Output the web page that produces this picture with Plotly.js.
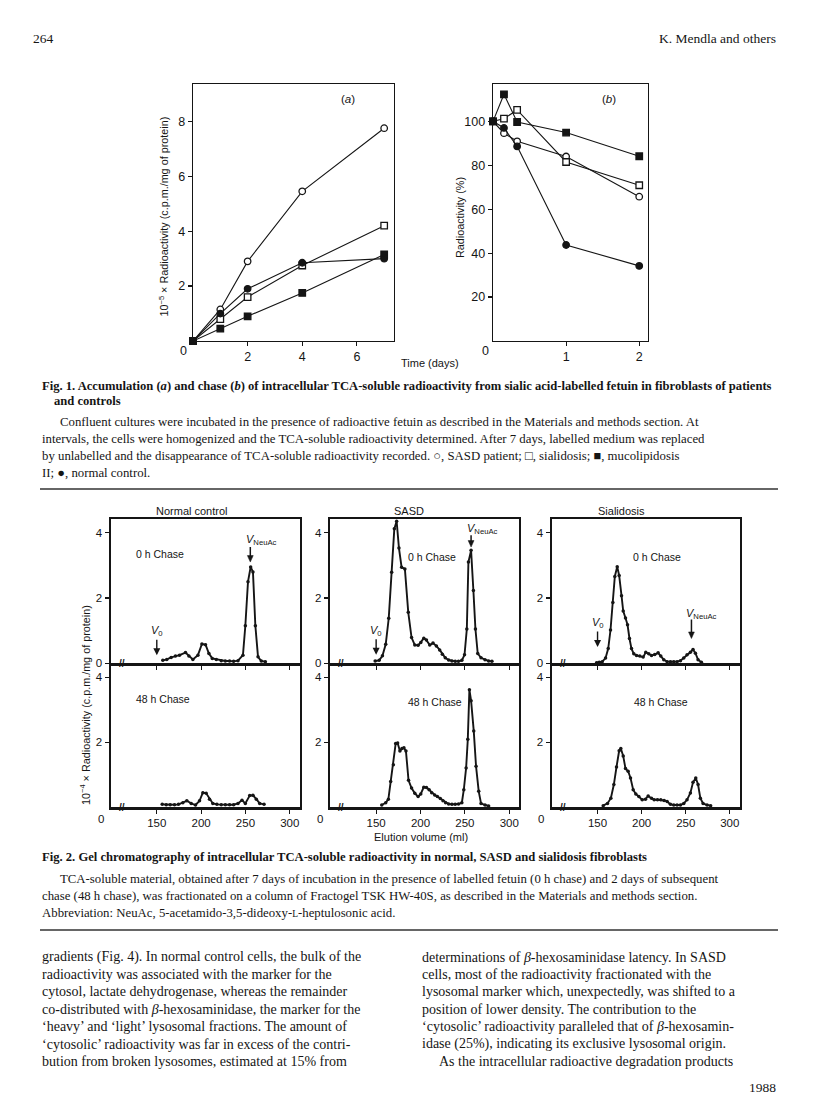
<!DOCTYPE html>
<html>
<head>
<meta charset="utf-8">
<script src="https://cdn.plot.ly/plotly-3.0.1.min.js"></script>
<style>
  body { margin: 0; background: #fff; }
  #page { width: 816px; height: 1100px; }
</style>
</head>
<body>
<div id="page"></div>
<script>
// ---- Fig. 1 (a): accumulation, 10^-5 x c.p.m./mg protein vs time (days)
const accDays = [0, 1, 2, 4, 7];
const accSasd = [0, 1.15, 2.9, 5.45, 7.75];      // open circle
const accSialidosis = [0, 0.8, 1.6, 2.75, 4.2];  // open square
const accMucolip = [0, 0.45, 0.9, 1.75, 3.15];   // filled square
const accNormal = [0, 1.0, 1.9, 2.85, 3.0];      // filled circle

// ---- Fig. 1 (b): chase, radioactivity (%) vs time (days)
const chaseDays = [0, 0.15, 0.33, 1, 2];
const chaseSasd = [100, 94.6, 90.9, 84, 65.7];
const chaseSialidosis = [100, 101.2, 105.2, 81.5, 70.9];
const chaseMucolip = [100, 112.3, 99.7, 94.9, 84.1];
const chaseNormal = [100, 97, 88.6, 43.7, 34.2];

// ---- Fig. 2: elution volume (ml) and 10^-4 x c.p.m./mg protein
const normal0hMl = [156.8, 161.3, 166.2, 171.1, 175.6, 182.4, 186.2, 190.7, 196.4, 200.9, 205.0, 208.8, 212.6, 217.1, 222.7, 227.3, 232.1, 236.7, 241.6, 247.2, 249.9, 252.9, 255.9, 258.5, 261.2, 264.2, 267.9, 272.5];
const normal0hVal = [0.09, 0.12, 0.18, 0.22, 0.25, 0.33, 0.22, 0.12, 0.25, 0.59, 0.57, 0.3, 0.15, 0.12, 0.08, 0.07, 0.07, 0.06, 0.08, 0.25, 1.15, 2.5, 2.95, 2.8, 1.15, 0.2, 0.07, 0.05];
const normal48hMl = [156.1, 160.6, 165.1, 170.0, 174.5, 179.4, 183.9, 188.8, 193.7, 198.2, 202.0, 205.7, 209.5, 213.2, 217.8, 222.7, 227.3, 232.1, 236.7, 241.6, 246.1, 249.9, 254.8, 258.5, 262.3, 266.1, 271.0];
const normal48hVal = [0.09, 0.08, 0.08, 0.08, 0.09, 0.14, 0.2, 0.12, 0.07, 0.2, 0.45, 0.43, 0.25, 0.12, 0.09, 0.08, 0.08, 0.08, 0.08, 0.12, 0.22, 0.12, 0.36, 0.37, 0.25, 0.12, 0.09];

const sasd0hMl = [148.9, 153.4, 157.1, 160.8, 164.2, 167.5, 170.5, 173.1, 175.7, 178.7, 182.4, 186.2, 189.9, 193.6, 197.3, 200.3, 203.7, 206.7, 210.4, 214.1, 217.9, 221.6, 224.6, 227.9, 231.7, 235.4, 239.1, 242.8, 246.6, 249.6, 252.2, 254.0, 257.0, 259.6, 261.9, 264.5, 268.2, 272.7, 276.8, 280.5];
const sasd0hVal = [0.07, 0.09, 0.23, 0.58, 1.38, 2.79, 4.12, 4.35, 3.53, 2.94, 2.89, 1.56, 0.79, 0.56, 0.55, 0.64, 0.77, 0.71, 0.56, 0.62, 0.53, 0.41, 0.28, 0.17, 0.1, 0.07, 0.06, 0.06, 0.09, 0.26, 1.05, 3.1, 3.46, 2.23, 1.05, 0.3, 0.17, 0.11, 0.07, 0.06];
const sasd48hMl = [156.3, 160.8, 163.8, 166.4, 169.4, 172.0, 174.2, 176.8, 179.1, 181.3, 183.6, 186.5, 189.9, 193.6, 197.3, 200.3, 203.7, 206.7, 209.7, 212.6, 216.0, 219.0, 222.3, 225.3, 228.3, 231.7, 235.4, 239.1, 242.8, 246.6, 248.8, 251.4, 253.3, 255.1, 257.0, 260.0, 262.6, 265.6, 268.2, 272.7, 276.8];
const sasd48hVal = [0.07, 0.14, 0.25, 0.79, 1.31, 1.96, 1.98, 1.73, 1.81, 1.83, 1.73, 0.83, 0.59, 0.43, 0.33, 0.41, 0.62, 0.61, 0.54, 0.45, 0.38, 0.33, 0.27, 0.2, 0.14, 0.1, 0.09, 0.09, 0.1, 0.14, 0.54, 1.21, 2.09, 3.62, 3.28, 2.35, 1.26, 0.49, 0.12, 0.07, 0.04];

const sial0hMl = [148.9, 151.9, 155.3, 159.1, 162.1, 164.7, 167.4, 169.6, 172.3, 174.5, 177.2, 179.1, 181.7, 184.0, 186.2, 188.5, 191.1, 194.2, 197.9, 201.7, 204.7, 208.1, 211.2, 214.9, 218.7, 221.7, 225.1, 228.9, 232.7, 236.4, 240.2, 244.0, 247.8, 251.5, 255.3, 258.3, 261.0, 264.0, 267.8];
const sial0hVal = [0.02, 0.03, 0.05, 0.16, 0.45, 1.02, 1.86, 2.66, 2.96, 2.69, 2.07, 1.6, 1.39, 1.18, 0.76, 0.45, 0.29, 0.24, 0.22, 0.19, 0.34, 0.29, 0.24, 0.27, 0.32, 0.22, 0.11, 0.05, 0.05, 0.05, 0.05, 0.08, 0.16, 0.26, 0.34, 0.42, 0.31, 0.11, 0.03];
const sial48hMl = [156.4, 161.3, 165.1, 168.5, 171.5, 174.5, 176.4, 179.1, 181.7, 184.7, 187.4, 190.4, 193.4, 196.8, 200.6, 204.4, 207.4, 211.2, 214.2, 218.0, 221.7, 225.5, 228.9, 232.7, 236.4, 240.2, 244.0, 247.8, 251.5, 255.3, 258.3, 261.4, 264.0, 266.6, 269.7, 274.2, 278.3];
const sial48hVal = [0.05, 0.12, 0.28, 0.7, 1.24, 1.74, 1.81, 1.58, 1.19, 1.11, 0.9, 0.54, 0.41, 0.33, 0.23, 0.25, 0.35, 0.28, 0.23, 0.23, 0.23, 0.21, 0.18, 0.09, 0.07, 0.07, 0.07, 0.12, 0.23, 0.44, 0.77, 0.9, 0.7, 0.28, 0.12, 0.07, 0.05];

const panelTitles = ['Normal control', 'SASD', 'Sialidosis'];
const volumeTicks = [150, 200, 250, 300];

// page pixel -> paper fraction
const W = 816, H = 1100;
const fx = p => p / W;
const fy = p => 1 - p / H;
const INK = '#151515';
const SANS = 'Liberation Sans, Arial, sans-serif';
const SERIF = 'Liberation Serif, Times New Roman, serif';

function fig1Trace(x, y, symbol, fill, n) {
    return {
        x: x, y: y, type: 'scatter', mode: 'lines+markers',
        xaxis: 'x' + n, yaxis: 'y' + n, cliponaxis: false, hoverinfo: 'skip',
        line: { color: INK, width: 1.1 },
        marker: { symbol: symbol, size: 6.5, color: fill, line: { color: INK, width: 1.3 } }
    };
}

function fig2Trace(x, y, n) {
    return {
        x: x, y: y, type: 'scatter', mode: 'lines+markers',
        xaxis: 'x' + n, yaxis: 'y' + n, cliponaxis: false, hoverinfo: 'skip',
        line: { color: INK, width: 1.9 },
        marker: { size: 3.5, color: INK }
    };
}

const data = [
    fig1Trace(accDays, accSasd, 'circle', '#fff', ''),
    fig1Trace(accDays, accSialidosis, 'square', '#fff', ''),
    fig1Trace(accDays, accMucolip, 'square', INK, ''),
    fig1Trace(accDays, accNormal, 'circle', INK, ''),
    fig1Trace(chaseDays, chaseSasd, 'circle', '#fff', '2'),
    fig1Trace(chaseDays, chaseSialidosis, 'square', '#fff', '2'),
    fig1Trace(chaseDays, chaseMucolip, 'square', INK, '2'),
    fig1Trace(chaseDays, chaseNormal, 'circle', INK, '2'),
    fig2Trace(normal0hMl, normal0hVal, 3),
    fig2Trace(sasd0hMl, sasd0hVal, 4),
    fig2Trace(sial0hMl, sial0hVal, 5),
    fig2Trace(normal48hMl, normal48hVal, 6),
    fig2Trace(sasd48hMl, sasd48hVal, 7),
    fig2Trace(sial48hMl, sial48hVal, 8)
];

function axis(extra) {
    return Object.assign({
        showgrid: false, zeroline: false, showline: true, linecolor: INK,
        ticks: 'outside', tickcolor: INK, ticklen: 4, tickwidth: 1.2,
        tickfont: { family: SANS, size: 12, color: INK }, fixedrange: true
    }, extra);
}

const fig1Font = { family: SANS, size: 12.5, color: INK };
const fig2Font = { family: SANS, size: 11.5, color: INK };

const layout = {
    width: W, height: H,
    margin: { l: 0, r: 0, t: 0, b: 0 },
    paper_bgcolor: '#fff', plot_bgcolor: 'rgba(0,0,0,0)',
    showlegend: false,
    font: { family: SANS, color: INK },
    // Fig 1a
    xaxis: axis({ domain: [fx(193), fx(394)], range: [0, 7.36], anchor: 'y', tickvals: [2, 4, 6], mirror: true, linewidth: 1.4, tickfont: fig1Font }),
    yaxis: axis({ domain: [fy(341), fy(84)], range: [0, 9.36], anchor: 'x', tickvals: [2, 4, 6, 8], mirror: true, linewidth: 1.4, tickfont: fig1Font }),
    // Fig 1b
    xaxis2: axis({ domain: [fx(493), fx(648)], range: [0, 2.12], anchor: 'y2', tickvals: [1, 2], mirror: true, linewidth: 1.4, tickfont: fig1Font }),
    yaxis2: axis({ domain: [fy(341), fy(84)], range: [0, 117], anchor: 'x2', tickvals: [20, 40, 60, 80, 100], mirror: true, linewidth: 1.4, tickfont: fig1Font }),
    annotations: [],
    shapes: []
};

// Fig 2 panels: columns share x positions, rows 0 h (top) and 48 h (bottom)
const colEdges = [[110.7, 299.5], [330, 519], [551.7, 739.5]];
for (let c = 0; c < 3; c++) {
    const top = 3 + c, bot = 6 + c;
    const dom = [fx(colEdges[c][0]), fx(colEdges[c][1])];
    layout['xaxis' + top] = axis({ domain: dom, range: [98, 311], anchor: 'y' + top, tickvals: volumeTicks, showticklabels: false, mirror: true, linewidth: 2.2 });
    layout['yaxis' + top] = axis({ domain: [fy(663.3), fy(519)], range: [0, 4.42], anchor: 'x' + top, tickvals: [0, 2, 4], mirror: true, linewidth: 2.2, tickfont: fig2Font });
    layout['xaxis' + bot] = axis({ domain: dom, range: [98, 311], anchor: 'y' + bot, tickvals: volumeTicks, linewidth: 2.2, tickfont: fig2Font });
    layout['yaxis' + bot] = axis({ domain: [fy(807.3), fy(663.3)], range: [0, 4.43], anchor: 'x' + bot, tickvals: [2, 4], mirror: true, linewidth: 2.2, tickfont: fig2Font });
}

const ann = layout.annotations;
function txt(x, y, text, size, opts) {
    ann.push(Object.assign({
        xref: 'paper', yref: 'paper', x: fx(x), y: fy(y), text: text, showarrow: false,
        xanchor: 'center', yanchor: 'middle', font: { family: SANS, size: size, color: INK }
    }, opts || {}));
}
function serif(x, y, text, size, opts) {
    txt(x, y, text, size, Object.assign({ xanchor: 'left', font: { family: SERIF, size: size, color: INK } }, opts || {}));
}
// V0 marker: label sits on the tail of the arrow
function voidArrow(n, x, y, len) {
    ann.push({
        xref: 'x' + n, yref: 'y' + n, x: x, y: y, text: '<i>V</i><sub>0</sub>', showarrow: true,
        ax: 0, ay: -len, arrowhead: 2, arrowsize: 1, arrowwidth: 1.4, arrowcolor: INK,
        font: { family: SANS, size: 11, color: INK }
    });
}
// plain arrow (shaft + head) drawn as shapes in the panel's own axes
function shapeArrow(n, x, yTip, yTail) {
    layout.shapes.push({
        type: 'line', xref: 'x' + n, yref: 'y' + n, x0: x, x1: x, y0: yTip + 0.12, y1: yTail,
        line: { color: INK, width: 1.5 }
    });
    layout.shapes.push({
        type: 'path', xref: 'x' + n, yref: 'y' + n,
        path: 'M ' + (x - 3.3) + ',' + (yTip + 0.2) + ' L ' + (x + 3.3) + ',' + (yTip + 0.2) + ' L ' + x + ',' + yTip + ' Z',
        fillcolor: INK, line: { color: INK, width: 0.5 }
    });
}

// page header
serif(31, 38, '264', 13.5);
serif(778, 38, 'K. Mendla and others', 13.5, { xanchor: 'right' });

// Fig 1 labels
txt(348, 99, '(<i>a</i>)', 11.5);
txt(609, 99, '(<i>b</i>)', 11.5);
txt(163.5, 217, '10<sup>−5</sup> × Radioactivity (c.p.m./mg of protein)', 10.8, { textangle: -90 });
txt(460, 218, 'Radioactivity (%)', 10.8, { textangle: -90 });
txt(183.5, 351, '0', 12.5);
txt(485, 351, '0', 12.5);
txt(430, 363, 'Time (days)', 11);

// Fig 1 caption
serif(40, 386, '<b>Fig. 1. Accumulation (<i>a</i>) and chase (<i>b</i>) of intracellular TCA-soluble radioactivity from sialic acid-labelled fetuin in fibroblasts of patients</b>', 12.6);
serif(52, 401, '<b>and controls</b>', 12.6);
serif(58, 422, 'Confluent cultures were incubated in the presence of radioactive fetuin as described in the Materials and methods section. At', 12.8);
serif(40, 439, 'intervals, the cells were homogenized and the TCA-soluble radioactivity determined. After 7 days, labelled medium was replaced', 12.8);
serif(40, 456, 'by unlabelled and the disappearance of TCA-soluble radioactivity recorded. ○, SASD patient; □, sialidosis; ■, mucolipidosis', 12.8);
serif(40, 473, 'II; ●, normal control.', 12.8);

// Fig 2 labels
const titleX = [191.7, 409.3, 621];
const chase0 = [[160, 554.3], [432.2, 556.7], [656.8, 557.3]];
const chase48 = [[163, 699], [435, 701.7], [661, 701.7]];
const zeroX = [100.7, 320, 540.7];
for (let c = 0; c < 3; c++) {
    txt(titleX[c], 511, panelTitles[c], 11);
    txt(chase0[c][0], chase0[c][1], '0 h Chase', 10.5);
    txt(chase48[c][0], chase48[c][1], '48 h Chase', 10.5);
    txt(zeroX[c], 818.5, '0', 11.5);
    txt(colEdges[c][0] + 11, 663.3, '<b>//</b>', 10);
    txt(colEdges[c][0] + 11, 807.3, '<b>//</b>', 10);
}
// void volume and NeuAc markers
voidArrow(3, 150, 0.25, 24);
voidArrow(4, 150, 0.26, 24);
voidArrow(5, 150, 0.5, 24);
shapeArrow(3, 255.5, 3.1, 3.56);
shapeArrow(4, 257, 3.56, 3.92);
shapeArrow(5, 256.5, 0.76, 1.34);
ann.push({ xref: 'x3', yref: 'y3', x: 268, y: 3.78, text: '<i>V</i><sub>NeuAc</sub>', showarrow: false, font: { family: SANS, size: 11, color: INK } });
ann.push({ xref: 'x4', yref: 'y4', x: 270, y: 4.12, text: '<i>V</i><sub>NeuAc</sub>', showarrow: false, font: { family: SANS, size: 11, color: INK } });
ann.push({ xref: 'x5', yref: 'y5', x: 267.8, y: 1.5, text: '<i>V</i><sub>NeuAc</sub>', showarrow: false, font: { family: SANS, size: 11, color: INK } });

txt(85, 705, '10<sup>−4</sup> × Radioactivity (c.p.m./mg of protein)', 10.8, { textangle: -90 });
txt(421, 837, 'Elution volume (ml)', 11);

// Fig 2 caption
serif(40, 857, '<b>Fig. 2. Gel chromatography of intracellular TCA-soluble radioactivity in normal, SASD and sialidosis fibroblasts</b>', 12.6);
serif(58, 879, 'TCA-soluble material, obtained after 7 days of incubation in the presence of labelled fetuin (0 h chase) and 2 days of subsequent', 12.8);
serif(40, 896, 'chase (48 h chase), was fractionated on a column of Fractogel TSK HW-40S, as described in the Materials and methods section.', 12.8);
serif(40, 913, 'Abbreviation: NeuAc, 5-acetamido-3,5-dideoxy-<span style="font-size:9.5px">L</span>-heptulosonic acid.', 12.8);

// body text, two columns
const leftCol = [
    'gradients (Fig. 4). In normal control cells, the bulk of the',
    'radioactivity was associated with the marker for the',
    'cytosol, lactate dehydrogenase, whereas the remainder',
    'co-distributed with <i>β</i>-hexosaminidase, the marker for the',
    '‘heavy’ and ‘light’ lysosomal fractions. The amount of',
    '‘cytosolic’ radioactivity was far in excess of the contri-',
    'bution from broken lysosomes, estimated at 15% from'
];
const rightCol = [
    'determinations of <i>β</i>-hexosaminidase latency. In SASD',
    'cells, most of the radioactivity fractionated with the',
    'lysosomal marker which, unexpectedly, was shifted to a',
    'position of lower density. The contribution to the',
    '‘cytosolic’ radioactivity paralleled that of <i>β</i>-hexosamin-',
    'idase (25%), indicating its exclusive lysosomal origin.',
    'As the intracellular radioactive degradation products'
];
leftCol.forEach((s, i) => serif(40, 957 + i * 17.4, s, 14));
rightCol.forEach((s, i) => serif(i === 6 ? 437 : 420, 957 + i * 17.4, s, 14));
serif(778, 1087, '1988', 13.5, { xanchor: 'right' });

// horizontal rules
[489, 930].forEach(y => layout.shapes.push({
    type: 'line', xref: 'paper', yref: 'paper', x0: fx(40), x1: fx(778), y0: fy(y), y1: fy(y),
    line: { color: '#333', width: 1.4 }
}));

Plotly.newPlot('page', data, layout, { staticPlot: true });
</script>
</body>
</html>
